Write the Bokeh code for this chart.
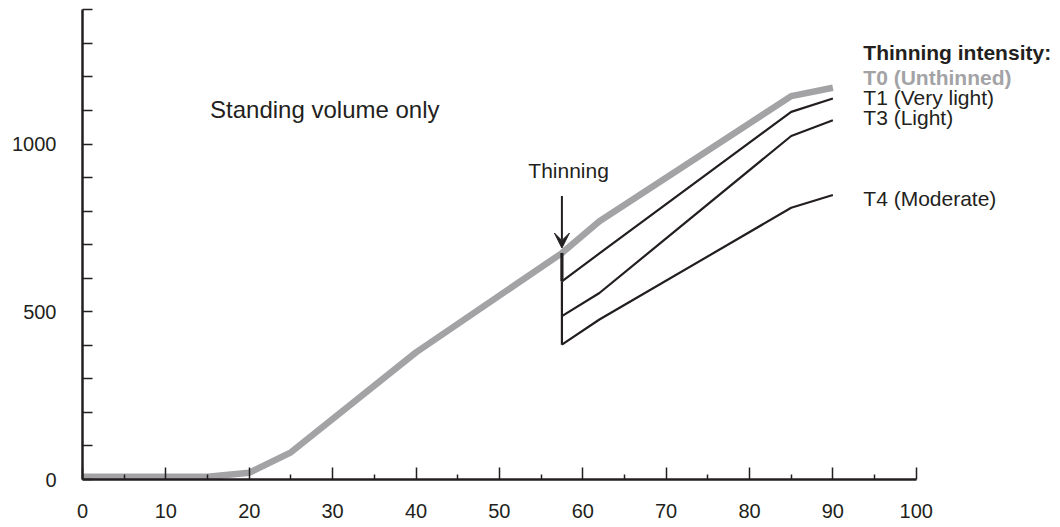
from bokeh.plotting import figure
from bokeh.models import FixedTicker, Arrow, VeeHead, Range1d
from bokeh.core.properties import value
from bokeh.embed import file_html
from bokeh.resources import INLINE

# ---- data ----
t0_age = [0, 15, 20, 25, 40, 57.5, 62, 85, 90]
t0_vol = [8, 8, 20, 81, 379, 675, 770, 1143, 1168]
thin_age = [57.5, 62, 85, 90]
t1_vol = [591, 674, 1096, 1136]
t3_vol = [487, 556, 1024, 1071]
t4_vol = [402, 477, 810, 848]
x_ticks = [0, 10, 20, 30, 40, 50, 60, 70, 80, 90, 100]
x_minor = [5, 15, 25, 35, 45, 55, 65, 75, 85, 95]
y_ticks = [0, 500, 1000]
y_minor = [100, 200, 300, 400, 600, 700, 800, 900, 1100, 1200, 1300, 1400]
legend_title = "Thinning intensity:"
legend_labels = ["T0 (Unthinned)", "T1 (Very light)", "T3 (Light)", "T4 (Moderate)"]

BLACK = "#231f20"
GREY = "#a3a3a6"
FONT = "Liberation Sans"

p = figure(width=1060, height=527, output_backend="svg", toolbar_location=None,
           x_range=Range1d(0, 117.3), y_range=Range1d(0, 1428),
           min_border_left=82, min_border_right=0, min_border_top=0, min_border_bottom=48)
p.outline_line_color = None
p.grid.visible = False
p.background_fill_color = "white"

# axes
for ax in (p.xaxis[0], p.yaxis[0]):
    ax.axis_line_color = BLACK
    ax.axis_line_width = 2.5
    ax.major_tick_line_color = BLACK
    ax.minor_tick_line_color = BLACK
    ax.major_tick_line_width = 1.5
    ax.minor_tick_line_width = 1.5
    ax.major_tick_out = 0
    ax.minor_tick_out = 0
    ax.major_label_text_font = FONT
    ax.major_label_text_font_size = "20px"
    ax.major_label_text_color = BLACK

p.xaxis.ticker = FixedTicker(ticks=x_ticks, minor_ticks=x_minor)
p.xaxis.bounds = (0, 100)
p.xaxis.major_tick_in = 12
p.xaxis.minor_tick_in = 5
p.xaxis.major_label_standoff = 24

p.yaxis.ticker = FixedTicker(ticks=y_ticks, minor_ticks=y_minor)
p.yaxis.bounds = (0, 1400)
p.yaxis.major_tick_in = 10
p.yaxis.minor_tick_in = 10
p.yaxis.major_label_standoff = 26

# lines
p.line(t0_age, t0_vol, line_color=GREY, line_width=6.5)
p.line([thin_age[0], thin_age[0]], [t4_vol[0], t1_vol[0]], line_color=BLACK, line_width=2.2)
p.line([thin_age[0], thin_age[0]], [t1_vol[0], t0_vol[5]], line_color=BLACK, line_width=3.2)
p.line(thin_age, t1_vol, line_color=BLACK, line_width=2.2)
p.line(thin_age, t3_vol, line_color=BLACK, line_width=2.2)
p.line(thin_age, t4_vol, line_color=BLACK, line_width=2.2)

# arrow & annotation
p.add_layout(Arrow(end=VeeHead(size=15, fill_color=BLACK, line_color=BLACK, line_width=1),
                   x_start=thin_age[0], y_start=845, x_end=thin_age[0], y_end=690,
                   line_color=BLACK, line_width=2))
p.text(x=[58.3], y=[920], text=["Thinning"], text_font=value(FONT), text_font_size="21px",
       text_color=BLACK, text_align="center", text_baseline="alphabetic")
p.text(x=[15.3], y=[1102], text=["Standing volume only"], text_font=value(FONT),
       text_font_size="24px", text_color=BLACK, text_align="left", text_baseline="alphabetic")

# legend texts
p.text(x=[93.65], y=[1272], text=[legend_title], text_font=value(FONT), text_font_size="21px",
       text_font_style="bold", text_color=BLACK, text_baseline="alphabetic")
p.text(x=[93.65], y=[1197], text=[legend_labels[0]], text_font=value(FONT), text_font_size="21px",
       text_font_style="bold", text_color=GREY, text_baseline="alphabetic")
p.text(x=[93.65, 93.65, 93.65], y=[1138, 1078, 839], text=legend_labels[1:], text_font=value(FONT),
       text_font_size="21px", text_color=BLACK, text_baseline="alphabetic")

open("out.html", "w").write(file_html(p, INLINE))
